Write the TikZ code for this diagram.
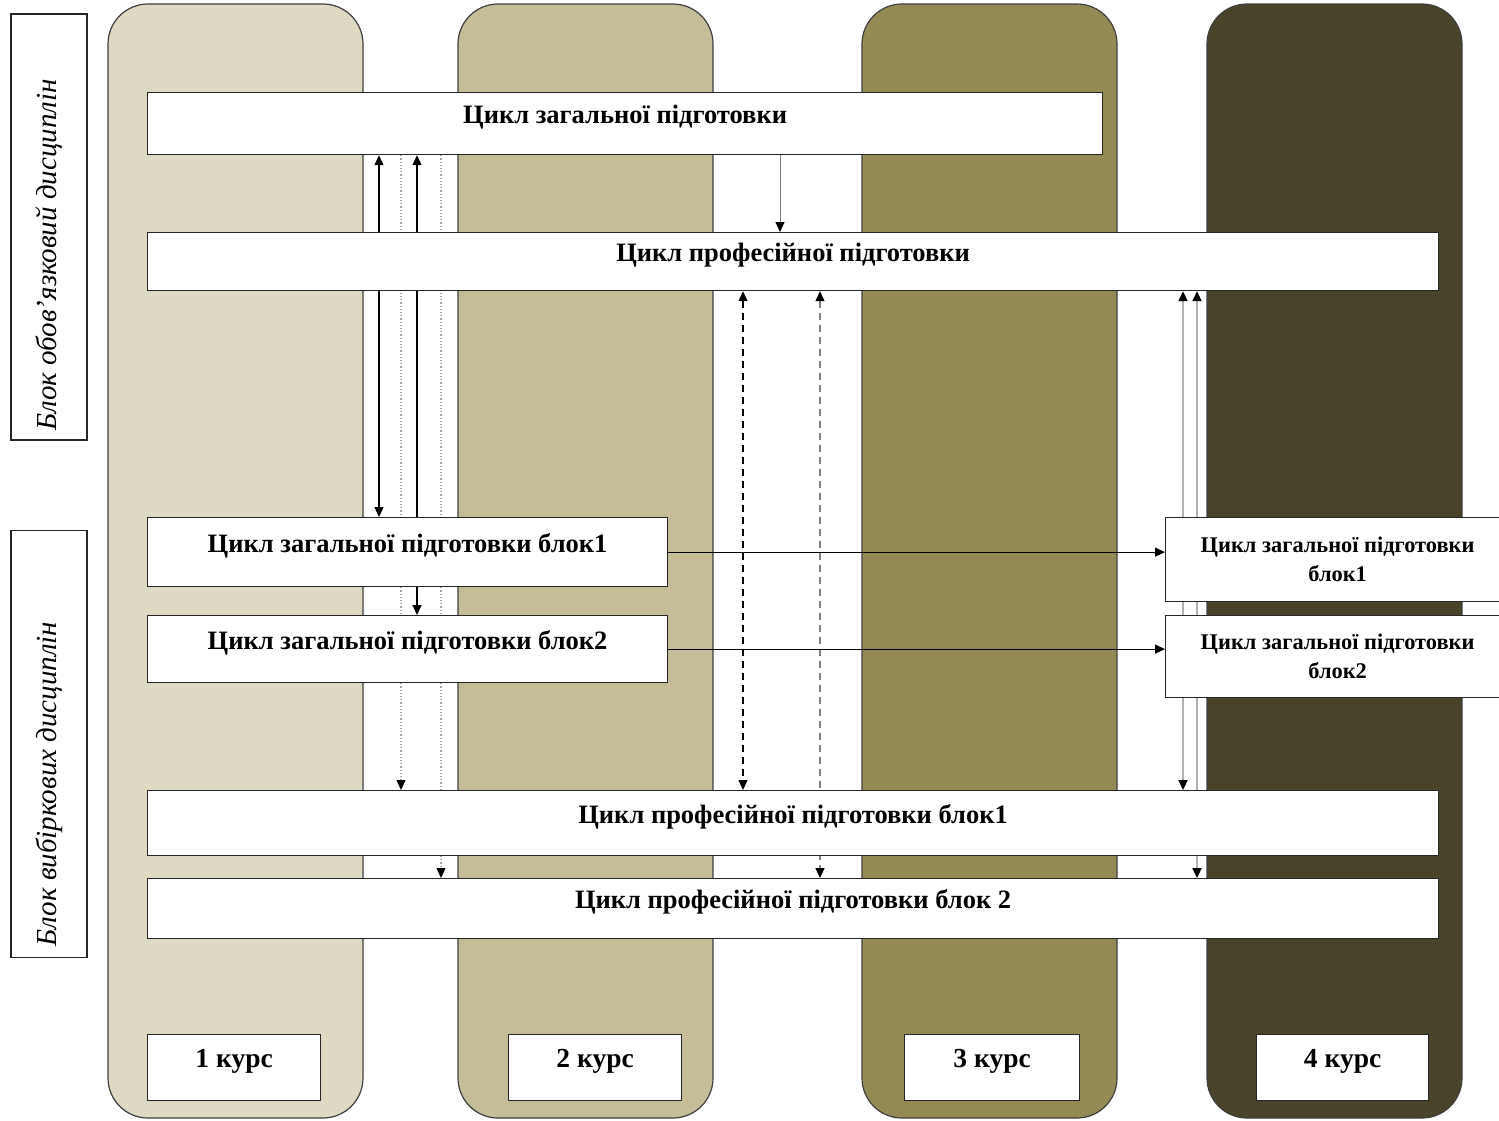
\documentclass[tikz,border=0pt]{standalone}
\usepackage{fontspec}
\setmainfont{Liberation Serif}
\usetikzlibrary{arrows.meta,positioning}
\definecolor{kursA}{HTML}{DDD9C3}
\definecolor{kursB}{HTML}{C4BD97}
\definecolor{kursC}{HTML}{948A54}
\definecolor{kursD}{HTML}{494429}
\definecolor{edgegray}{HTML}{3F3F3F}
\pgfdeclarelayer{back}
\pgfdeclarelayer{lanes}
\pgfsetlayers{back,lanes,main}

\begin{document}
\begin{tikzpicture}[x=1pt,y=-1pt,
  >={Triangle[width=9pt,length=10pt,black]},
  yearcol/.style={draw=edgegray,line width=1.2pt,rounded corners=40pt},
  cyclebox/.style={draw=black!85,line width=1.2pt,fill=white,anchor=north west,inner sep=0pt,
    text height=18pt,text depth=18pt,font=\fontsize{26.5}{30}\selectfont\bfseries},
  smallbox/.style={cyclebox,align=center,text height=,text depth=,font=\fontsize{22.4}{29}\selectfont\bfseries},
  sidebox/.style={draw=black!85,line width=1.2pt,fill=white,rotate=90,inner sep=0pt,
    minimum height=76pt,font=\fontsize{29}{32}\selectfont\itshape},
  kursbox/.style={cyclebox,minimum height=66pt,font=\fontsize{27.5}{30}\selectfont\bfseries},
  plainline/.style={line width=1.2pt},
  dotline/.style={line width=1.2pt,gray!70,dotted},
  dashline/.style={line width=1.2pt,dash pattern=on 7pt off 5pt},
  paleline/.style={line width=2pt,black!30}]
\useasboundingbox (0,0) rectangle (1499,1120);

% columns of the four years
\begin{pgfonlayer}{back}
\foreach \x/\c in {108/kursA,458/kursB,862/kursC,1207/kursD}
  \draw[yearcol,fill=\c] (\x,4) rectangle ++(255,1114);
\end{pgfonlayer}

% side labels
\node[sidebox,minimum width=426pt] (oblig) at (49,227) {Блок обов’язковий дисциплін\hspace*{56pt}};
\node[sidebox,minimum width=427pt] (elect) at (49,744) {Блок вибіркових дисциплін\hspace*{80pt}};

% cycles
\node[cyclebox,minimum width=955pt,minimum height=62pt] (zag) at (147,92) {Цикл загальної підготовки};
\node[cyclebox,minimum width=1291pt,minimum height=58pt] (prof) at (147,232) {Цикл професійної підготовки};
\node[cyclebox,minimum width=520pt,minimum height=69pt] (zagA) at (147,517) {Цикл загальної підготовки блок1};
\node[cyclebox,minimum width=520pt,minimum height=67pt] (zagB) at (147,615) {Цикл загальної підготовки блок2};
\node[smallbox,minimum width=344pt,minimum height=84pt] (zagAr) at (1165,517) {Цикл загальної підготовки\\блок1};
\node[smallbox,minimum width=344pt,minimum height=82pt] (zagBr) at (1165,615) {Цикл загальної підготовки\\блок2};
\node[cyclebox,minimum width=1291pt,minimum height=65pt] (profA) at (147,790) {Цикл професійної підготовки блок1};
\node[cyclebox,minimum width=1291pt,minimum height=60pt] (profB) at (147,878) {Цикл професійної підготовки блок 2};

% years
\node[kursbox,minimum width=173pt] (k1) at (147,1034) {1 курс};
\node[kursbox,minimum width=173pt] (k2) at (508,1034) {2 курс};
\node[kursbox,minimum width=175pt] (k3) at (904,1034) {3 курс};
\node[kursbox,minimum width=172pt] (k4) at (1256,1034) {4 курс};

% lanes
\coordinate (la) at (379,0);
\coordinate (lb) at (401,0);
\coordinate (lc) at (417,0);
\coordinate (ld) at (441,0);
\coordinate (le) at (743,0);
\coordinate (lf) at (780,0);
\coordinate (lg) at (820,0);
\coordinate (lh) at (1183,0);
\coordinate (li) at (1197,0);

\begin{pgfonlayer}{lanes}
\draw[plainline,<->] (zag.south -| la) -- (zagA.north -| la);
\draw[plainline,<->] (zag.south -| lc) -- (zagB.north -| lc);
\draw[dotline,->] (zag.south -| lb) -- (profA.north -| lb);
\draw[dotline,->] (zag.south -| ld) -- (profB.north -| ld);
\draw[line width=1pt,gray,->] (zag.south -| lf) -- (prof.north -| lf);
\draw[dashline,<->] (prof.south -| le) -- (profA.north -| le);
\draw[dashline,gray,<->] (prof.south -| lg) -- (profB.north -| lg);
\draw[paleline,<->] (prof.south -| lh) -- (profA.north -| lh);
\draw[paleline,<->] (prof.south -| li) -- (profB.north -| li);
\end{pgfonlayer}
\draw[plainline,->] (zagA.east) -- (zagA.east -| zagAr.west);
\draw[plainline,->] (zagB.east) -- (zagB.east -| zagBr.west);
\end{tikzpicture}
\end{document}
